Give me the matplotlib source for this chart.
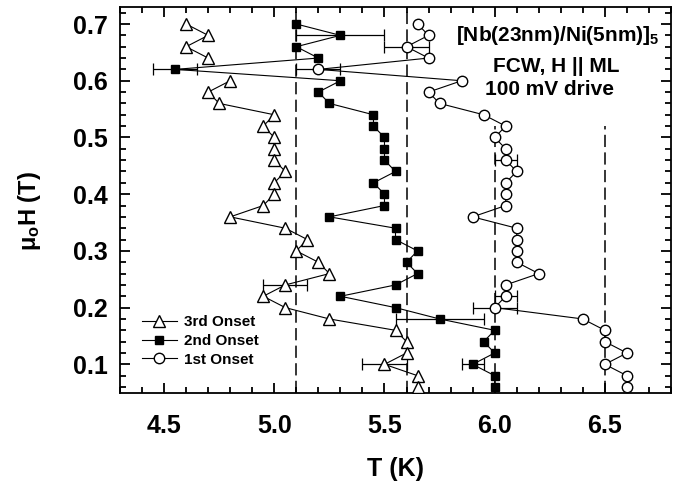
import matplotlib
matplotlib.use('Agg')
import matplotlib.pyplot as plt
import numpy as np
from matplotlib.ticker import MultipleLocator, FormatStrFormatter

plt.rcParams['font.family'] = ['Liberation Sans', 'DejaVu Sans']
plt.rcParams['font.weight'] = 'bold'
plt.rcParams['mathtext.fontset'] = 'custom'
plt.rcParams['mathtext.rm'] = 'Liberation Sans:bold'
plt.rcParams['mathtext.it'] = 'Liberation Sans:bold'
plt.rcParams['mathtext.bf'] = 'Liberation Sans:bold'

# ---- data ----
H = [0.70, 0.68, 0.66, 0.64, 0.62, 0.60, 0.58, 0.56, 0.54, 0.52, 0.50,
     0.48, 0.46, 0.44, 0.42, 0.40, 0.38, 0.36, 0.34, 0.32, 0.30, 0.28,
     0.26, 0.24, 0.22, 0.20, 0.18, 0.16, 0.14, 0.12, 0.10, 0.08, 0.06]

T_3rd = [4.60, 4.70, 4.60, 4.70, np.nan, 4.80, 4.70, 4.75, 5.00, 4.95, 5.00,
         5.00, 5.00, 5.05, 5.00, 5.00, 4.95, 4.80, 5.05, 5.15, 5.10, 5.20,
         5.25, 5.05, 4.95, 5.05, 5.25, 5.55, 5.60, 5.60, 5.50, 5.65, 5.65]

T_2nd = [5.10, 5.30, 5.10, 5.20, 4.55, 5.30, 5.20, 5.25, 5.45, 5.45, 5.50,
         5.50, 5.50, 5.55, 5.45, 5.50, 5.50, 5.25, 5.55, 5.55, 5.65, 5.60,
         5.65, 5.55, 5.30, 5.55, 5.75, 6.00, 5.95, 6.00, 5.90, 6.00, 6.00]

T_1st = [5.65, 5.70, 5.60, 5.70, 5.20, 5.85, 5.70, 5.75, 5.95, 6.05, 6.00,
         6.05, 6.05, 6.10, 6.05, 6.05, 6.05, 5.90, 6.10, 6.10, 6.10, 6.10,
         6.20, 6.05, 6.05, 6.00, 6.40, 6.50, 6.50, 6.60, 6.50, 6.60, 6.60]

# error bars (field value, half-width in K)
err3_H = [0.24, 0.10]
err3_dT = [0.10, 0.10]
err2_H = [0.68, 0.62, 0.18, 0.10]
err2_dT = [0.20, 0.10, 0.20, 0.05]
err1_H = [0.66, 0.62, 0.46, 0.22, 0.20]
err1_dT = [0.10, 0.10, 0.05, 0.05, 0.10]

# dashed guide lines
guide_T = [5.1, 5.6, 6.0, 6.5]
guide_top = [0.73, 0.73, 0.52, 0.52]

series_labels = ['3rd Onset', '2nd Onset', '1st Onset']

# ---- figure ----
fig = plt.figure(figsize=(6.76, 4.87), dpi=100)
ax = fig.add_axes([120/676, 1-392.7/487, 551/676, 385.7/487])

xmin, xmax, ymin, ymax = 4.3, 6.8, 0.05, 0.73
ax.set_xlim(xmin, xmax)
ax.set_ylim(ymin, ymax)

for t, top in zip(guide_T, guide_top):
    ax.plot([t, t], [ymin, top], color='black', lw=1.1,
            dashes=(8, 3.5), zorder=1)

def lookup(Ts, hs):
    return [Ts[H.index(h)] for h in hs]

ekw = dict(fmt='none', ecolor='black', elinewidth=0.9, capsize=4.5,
           capthick=0.9, zorder=2)
ax.errorbar(lookup(T_3rd, err3_H), err3_H, xerr=err3_dT, **ekw)
ax.errorbar(lookup(T_2nd, err2_H), err2_H, xerr=err2_dT, **ekw)
ax.errorbar(lookup(T_1st, err1_H), err1_H, xerr=err1_dT, **ekw)

ax.plot(T_3rd, H, '-', color='black', lw=0.8, marker='^', ms=8.5,
        mfc='white', mec='black', mew=1.0, label=series_labels[0], zorder=3)
ax.plot(T_2nd, H, '-', color='black', lw=0.8, marker='s', ms=6.2,
        mfc='black', mec='black', mew=1.0, label=series_labels[1], zorder=3)
ax.plot(T_1st, H, '-', color='black', lw=0.8, marker='o', ms=7.5,
        mfc='white', mec='black', mew=1.0, label=series_labels[2], zorder=3)

ax.xaxis.set_major_locator(MultipleLocator(0.5))
ax.xaxis.set_minor_locator(MultipleLocator(0.1))
ax.yaxis.set_major_locator(MultipleLocator(0.1))
ax.yaxis.set_minor_locator(MultipleLocator(0.02))
ax.xaxis.set_major_formatter(FormatStrFormatter('%.1f'))
ax.yaxis.set_major_formatter(FormatStrFormatter('%.1f'))

ax.tick_params(which='both', direction='in', top=True, right=True,
               width=1.3)
ax.tick_params(which='major', length=7, labelsize=18)
ax.tick_params(which='minor', length=4)
ax.tick_params(axis='x', which='major', pad=15)
ax.tick_params(axis='y', which='major', pad=9)
for s in ax.spines.values():
    s.set_linewidth(1.3)

ax.set_xlabel('T (K)', fontsize=18, fontweight='bold', labelpad=14)
ax.set_ylabel(r'$\mu_o$H (T)', fontsize=17, fontweight='bold')
ax.yaxis.set_label_coords(-0.14, 0.47)

ax.text(0.98, 0.927, r'[Nb(23nm)/Ni(5nm)]$_5$', transform=ax.transAxes,
        ha='right', va='center', fontsize=15, fontweight='bold')
ax.text(0.791, 0.845, 'FCW, H || ML', transform=ax.transAxes,
        ha='center', va='center', fontsize=15, fontweight='bold')
ax.text(0.780, 0.785, '100 mV drive', transform=ax.transAxes,
        ha='center', va='center', fontsize=15, fontweight='bold')

leg = ax.legend(loc='lower left', bbox_to_anchor=(0.02, 0.04), frameon=False,
                fontsize=11, handlelength=2.3, handletextpad=0.5,
                labelspacing=0.3, borderpad=0.2)

fig.savefig('out.png', dpi=100)
